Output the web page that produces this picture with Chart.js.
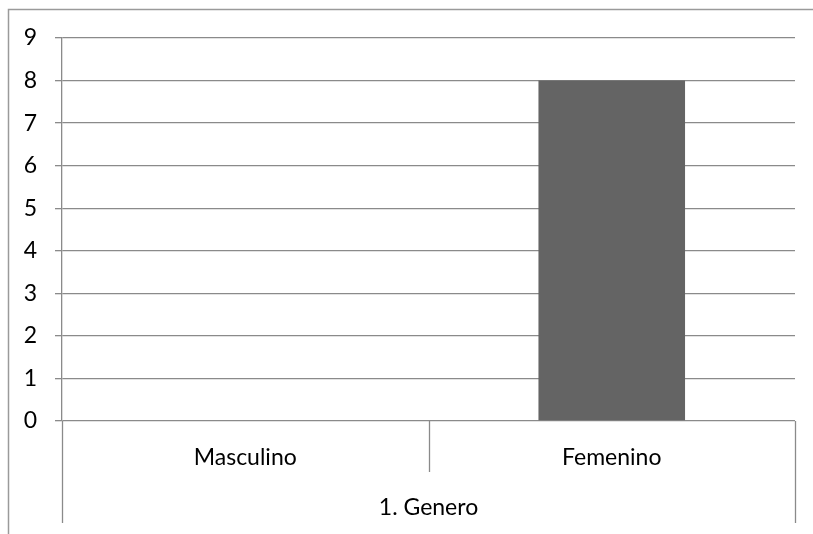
<!DOCTYPE html>
<html>
<head>
<meta charset="utf-8">
<script src="https://cdn.jsdelivr.net/npm/chart.js@4.4.1/dist/chart.umd.min.js"></script>
<style>
html,body{margin:0;padding:0;background:#fff;}
#wrap{position:relative;width:813px;height:534px;}
</style>
</head>
<body>
<div id="wrap"><canvas id="c" width="813" height="534"></canvas></div>
<script>
const categories = ["Masculino", "Femenino"];
const groupLabel = "1. Genero";
const values = [0, 8];
const yTicks = [0, 1, 2, 3, 4, 5, 6, 7, 8, 9];

const LINE = '#8a8a8a';
const FONT = 'Lato, "Open Sans", sans-serif';
const FS = 23;

const frame = {
  id: 'frame',
  beforeDraw(chart) {
    const ctx = chart.ctx;
    ctx.save();
    ctx.strokeStyle = '#9a9a9a';
    ctx.lineWidth = 1.5;
    ctx.beginPath();
    ctx.moveTo(8.5, 534);
    ctx.lineTo(8.5, 9.5);
    ctx.lineTo(813, 9.5);
    ctx.stroke();
    ctx.restore();
  },
  afterDraw(chart) {
    const x = chart.scales.x;
    const ctx = chart.ctx;
    const n = categories.length;
    const half = (x.getPixelForValue(1) - x.getPixelForValue(0)) / 2;
    const base = chart.chartArea.bottom;
    ctx.save();
    ctx.strokeStyle = LINE;
    ctx.lineWidth = 1.3;
    for (let i = 0; i <= n; i++) {
      const px = Math.round(x.getPixelForValue(Math.min(i, n - 1)) + (i === n ? half : -half)) + 0.5;
      const end = (i === 0 || i === n) ? 523 : 472;
      ctx.beginPath();
      ctx.moveTo(px, base);
      ctx.lineTo(px, end);
      ctx.stroke();
    }
    ctx.fillStyle = '#000';
    ctx.font = FS + 'px ' + FONT;
    ctx.textAlign = 'center';
    ctx.textBaseline = 'middle';
    ctx.fillText(groupLabel, (x.left + x.right) / 2, 508);
    ctx.restore();
  }
};

new Chart(document.getElementById('c'), {
  type: 'bar',
  data: {
    labels: categories,
    datasets: [{
      data: values,
      backgroundColor: '#646464',
      borderWidth: 0,
      barPercentage: 0.4,
      categoryPercentage: 1.0
    }]
  },
  options: {
    responsive: false,
    devicePixelRatio: 1,
    animation: false,
    layout: { padding: { top: 38, right: 18, left: 0, bottom: 0 } },
    plugins: { legend: { display: false }, tooltip: { enabled: false } },
    scales: {
      x: {
        grid: { display: false },
        border: { display: false },
        ticks: { color: '#000', font: { family: FONT, size: FS }, padding: 15, maxRotation: 0 },
        afterFit(s) { s.height = 113; }
      },
      y: {
        min: 0, max: 9,
        afterBuildTicks(s) { s.ticks = yTicks.map(v => ({ value: v })); },
        grid: { color: LINE, lineWidth: 1.3, tickLength: 7 },
        border: { display: true, color: LINE, width: 1.3 },
        ticks: { color: '#000', font: { family: FONT, size: FS }, padding: 18 },
        afterFit(s) { s.width = 62; }
      }
    }
  },
  plugins: [frame]
});
</script>
</body>
</html>
